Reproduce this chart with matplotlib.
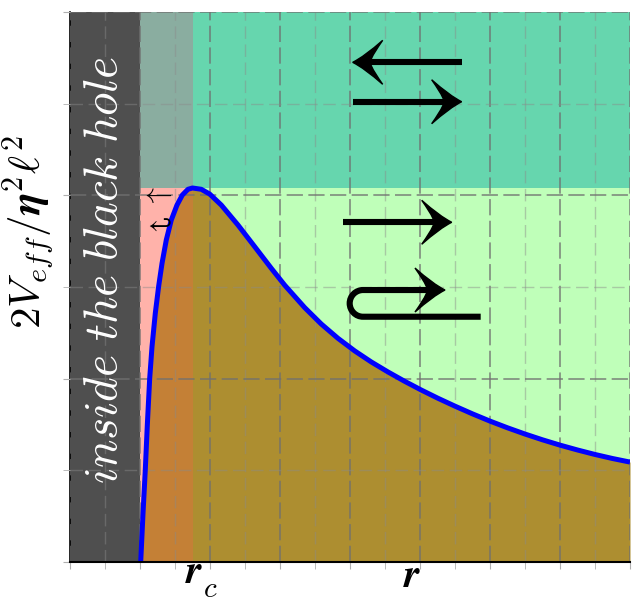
import numpy as np
import matplotlib
matplotlib.use("Agg")
import matplotlib.pyplot as plt
import matplotlib.transforms as mtransforms
from matplotlib.path import Path
from matplotlib.patches import PathPatch

plt.rcParams['mathtext.fontset'] = 'cm'

# effective potential
r_vals = [2.02, 2.086, 2.151, 2.209, 2.277, 2.343, 2.437, 2.534, 2.629, 2.751,
          2.894, 3.057, 3.209, 3.371, 3.50,
          3.751, 3.991, 4.323, 4.80, 5.277, 5.751, 6.134, 6.706, 7.18, 7.657,
          8.134, 8.609, 9.086, 9.563, 10.037, 10.514, 11.0, 11.5, 12.0, 12.5,
          13.0, 13.5, 14.0, 14.5, 15.0, 15.5, 16.0]
v_vals = [0.00, 0.531, 1.004, 1.494, 2.004, 2.349, 2.713, 3.011, 3.258, 3.513,
          3.731, 3.894, 4.003, 4.066, 4.08,
          4.066, 4.014, 3.894, 3.676, 3.440, 3.204, 3.02, 2.775, 2.596, 2.440,
          2.303, 2.182, 2.073, 1.971, 1.876, 1.786, 1.700, 1.616, 1.537, 1.464,
          1.396, 1.333, 1.275, 1.222, 1.173, 1.129, 1.090]
r_h = 2.0    # horizon
r_c = 3.5    # peak position
r_max = 16
v_max = 6

c_dark = '#4f4f4f'
c_pink = '#ffb2aa'
c_greyteal = '#8aada0'
c_teal = '#66d6ae'
c_green = '#bfffb9'
c_olive = '#ad8e30'
c_orange = '#c48036'

r = np.array(r_vals)
v = np.array(v_vals)
v_peak = v.max()

fig = plt.figure(figsize=(6.33, 6.03), dpi=100)
ax = fig.add_axes([70 / 633, 41 / 603, 560 / 633, 550 / 603])
ax.set_xlim(0, r_max)
ax.set_ylim(0, v_max)

ax.axvspan(0, r_h, color=c_dark, lw=0, zorder=1)
ax.fill_between([r_h, r_c], 0, v_peak, color=c_pink, lw=0, zorder=1)
ax.fill_between([r_h, r_c], v_peak, v_max, color=c_greyteal, lw=0, zorder=1)
ax.fill_between([r_c, r_max], v_peak, v_max, color=c_teal, lw=0, zorder=1)
ax.fill_between([r_c, r_max], 0, v_peak, color=c_green, lw=0, zorder=1)
ax.fill_between(r, 0, v, where=r <= r_c, color=c_orange, lw=0, zorder=2)
ax.fill_between(r, 0, v, where=r >= r_c, color=c_olive, lw=0, zorder=2)

ax.set_xticks(np.arange(0, r_max + 1, 2))
ax.set_xticks(np.arange(0, r_max + 1, 1), minor=True)
ax.set_yticks(np.arange(0, v_max + 1, 2))
ax.set_yticks(np.arange(0, v_max + 1, 1), minor=True)
ax.tick_params(which='both', length=5, color='#b0b0b0', labelbottom=False, labelleft=False)
ax.grid(which='major', color='#707070', ls=(0, (9, 3)), lw=1.3, alpha=0.75, zorder=3)
ax.grid(which='minor', color='#8a8a8a', ls=(0, (9, 4)), lw=1.0, alpha=0.45, zorder=3)
ax.set_axisbelow(False)
for s in ['top', 'right']:
    ax.spines[s].set_visible(False)
ax.spines['bottom'].set_linewidth(1.5)
ax.spines['left'].set_linewidth(1.2)
ax.spines['bottom'].set_zorder(6)

ax.plot(r, v, color='#0000ff', lw=3.6, zorder=5, solid_capstyle='butt', solid_joinstyle='round')

ax.text(1.0, 3.19, r'$inside\ the\ black\ hole$', color='white', fontsize=34,
        rotation=90, ha='center', va='center', zorder=6)
ax.text(-1.14, 3.6, r'$2V_{eff}/\boldsymbol{\eta}^2\boldsymbol{\ell}^2$', fontsize=31,
        rotation=90, ha='center', va='center', clip_on=False)
# x labels: r_c with a low subscript, and r
ax.text(3.54, -0.23, r'$\boldsymbol{r}$', fontsize=29, ha='center', va='baseline', clip_on=False)
ax.text(4.0, -0.38, r'$c$', fontsize=21, ha='center', va='baseline', clip_on=False)
ax.text(9.79, -0.27, r'$\boldsymbol{r}$', fontsize=29, ha='center', va='baseline', clip_on=False)

ax.text(2.47, 4.01, r'$\leftarrow$', fontsize=20, ha='center', va='center', zorder=6)
ax.text(2.49, 3.68, r'$\hookleftarrow$', fontsize=19, ha='center', va='center', zorder=6)

# big arrows, drawn in pixel units around the tip
px = fig.dpi / 100
head = Path([(0, 0), (-12, 6), (-30, 22), (-13, -2), (-20, 0), (-13, 2), (-30, -22),
             (-12, -6), (0, 0), (0, 0)],
            [Path.MOVETO, Path.CURVE3, Path.CURVE3, Path.CURVE3, Path.CURVE3,
             Path.CURVE3, Path.CURVE3, Path.CURVE3, Path.CURVE3, Path.CLOSEPOLY])
k = 0.5523 * 13.3
hook = Path([(35.7, -26.7), (-82, -26.7),
             (-82 - k, -26.7), (-95.3, -13.3 - k), (-95.3, -13.3),
             (-95.3, -13.3 + k), (-82 - k, 0), (-82, 0), (-12, 0)],
            [Path.MOVETO, Path.LINETO, Path.CURVE4, Path.CURVE4, Path.CURVE4,
             Path.CURVE4, Path.CURVE4, Path.CURVE4, Path.LINETO])

arrow_tips = [(8.077, 5.451, -1), (11.19, 5.021, 1), (10.906, 3.706, 1), (10.714, 2.967, 1)]
arrow_kind = ['straight', 'straight', 'straight', 'hook']

for (xt, yt, sign), kind in zip(arrow_tips, arrow_kind):
    tr = mtransforms.Affine2D().scale(sign * px, px) + mtransforms.ScaledTranslation(xt, yt, ax.transData)
    if kind == 'hook':
        shaft = hook
    else:
        shaft = Path([(-109, 0), (-12, 0)])
    ax.add_patch(PathPatch(shaft, transform=tr, fill=False, lw=4.4, color='black',
                           capstyle='butt', zorder=7))
    ax.add_patch(PathPatch(head, transform=tr, color='black', lw=1.0, zorder=7))

fig.savefig('out.png', dpi=100)
